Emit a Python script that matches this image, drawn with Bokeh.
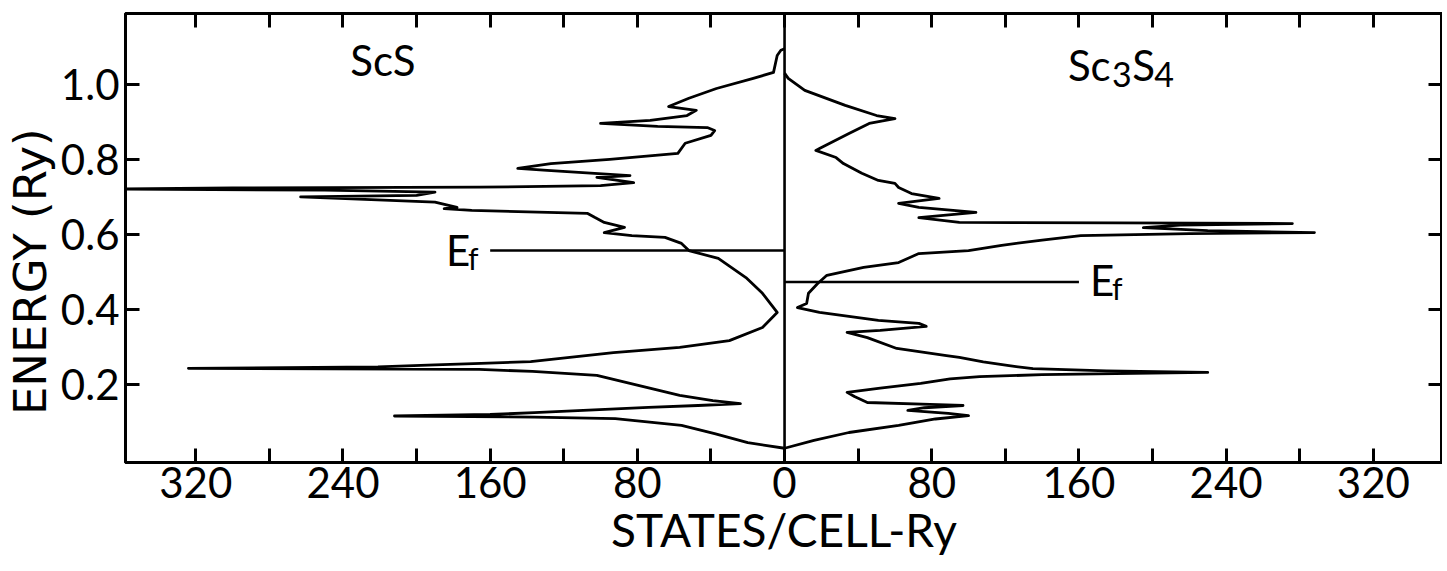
from bokeh.plotting import figure
from bokeh.models import FixedTicker, LinearAxis, CustomJSTickFormatter, Label, Span, Range1d
from bokeh.embed import file_html
from bokeh.resources import INLINE

# ---------------- data ----------------
# ScS density of states (drawn to the left), energy in Ry, DOS in states/cell-Ry
scs_energy = [0.030, 0.045, 0.069, 0.091, 0.109, 0.113, 0.116, 0.120, 0.125, 0.139,
              0.144, 0.149, 0.157, 0.171, 0.192, 0.224, 0.235, 0.240, 0.243, 0.247,
              0.252, 0.256, 0.261, 0.285, 0.299, 0.317, 0.352, 0.392, 0.443, 0.485,
              0.536, 0.557, 0.576, 0.592, 0.597, 0.605, 0.619, 0.632, 0.645, 0.656,
              0.664, 0.669, 0.672, 0.686, 0.700, 0.704, 0.713, 0.718, 0.721, 0.724,
              0.726, 0.730, 0.738, 0.752, 0.757, 0.771, 0.776, 0.789, 0.800, 0.816,
              0.843, 0.864, 0.877, 0.885, 0.888, 0.896, 0.904, 0.917, 0.931, 0.941,
              0.963, 0.989, 1.016, 1.032, 1.077, 1.091, 1.095]
scs_dos = [0, 20, 38, 56, 92, 136, 212, 160, 136, 74,
           47, 24, 39, 57, 75, 102, 137, 166, 324, 221,
           190, 165, 138, 93, 57, 30, 12, 4, 12, 21,
           36, 52, 56, 65, 83, 98, 87, 98, 103, 107,
           170, 185, 178, 190, 263, 200, 190, 250, 365, 300,
           166, 100, 82, 102, 84, 129, 145, 127, 95, 58,
           54, 40, 38, 42, 69, 100, 73, 53, 48, 63,
           52, 37, 17, 6, 4, 2, 0]

# Sc3S4 density of states (drawn to the right)
sc3s4_energy = [0.030, 0.051, 0.072, 0.091, 0.108, 0.117, 0.123, 0.131, 0.138, 0.144,
                0.147, 0.152, 0.168, 0.179, 0.190, 0.203, 0.215, 0.221, 0.226, 0.229,
                0.232, 0.236, 0.242, 0.250, 0.260, 0.272, 0.277, 0.296, 0.325, 0.339,
                0.344, 0.355, 0.363, 0.371, 0.392, 0.405, 0.416, 0.443, 0.469, 0.491,
                0.512, 0.525, 0.549, 0.557, 0.571, 0.585, 0.597, 0.602, 0.605, 0.610,
                0.618, 0.625, 0.629, 0.631, 0.632, 0.645, 0.659, 0.672, 0.683, 0.696,
                0.709, 0.725, 0.736, 0.744, 0.763, 0.789, 0.805, 0.824, 0.829, 0.869,
                0.896, 0.909, 0.917, 0.944, 0.984, 1.016, 1.030]
sc3s4_dos = [0, 16, 35, 62, 82, 100, 89, 67, 76, 97,
             79, 45, 38, 34, 52, 74, 90, 106, 140, 180,
             230, 175, 135, 122, 108, 95, 88, 61, 45, 34,
             52, 77, 73, 51, 19, 7, 12, 13, 18, 23,
             43, 62, 73, 100, 118, 140, 161, 220, 288, 230,
             195, 215, 276, 180, 95, 73, 104, 73, 62, 84,
             69, 62, 60, 51, 42, 32, 28, 17, 19, 35,
             46, 60, 50, 33, 11, 2, 0]

# Fermi levels (Ry) and the length of their marker lines (states/cell-Ry)
fermi_energy = [0.557, 0.473]
fermi_extent = [160, 160]

x_major_ticks = [-320, -240, -160, -80, 0, 80, 160, 240, 320]
x_minor_ticks = [-280, -200, -120, -40, 40, 120, 200, 280]
y_major_ticks = [0.2, 0.4, 0.6, 0.8, 1.0]

FONT = "Lato"
BLACK = "#000000"
X0, X1 = -358.2, 357.6

p = figure(width=1442, height=570, output_backend="svg", toolbar_location=None,
           x_range=Range1d(X0, X1), y_range=Range1d(-0.008, 1.189),
           min_border_left=124, min_border_right=0, min_border_top=13,
           min_border_bottom=108)
p.grid.visible = False
p.outline_line_color = BLACK
p.outline_line_width = 3
p.background_fill_color = "white"
p.border_fill_color = "white"

xa = p.below[0]
ya = p.left[0]
top_axis = LinearAxis()
right_axis = LinearAxis()
p.add_layout(top_axis, "above")
p.add_layout(right_axis, "right")

for ax in [xa, top_axis]:
    ax.ticker = FixedTicker(ticks=x_major_ticks, minor_ticks=x_minor_ticks)
for ax in [ya, right_axis]:
    ax.ticker = FixedTicker(ticks=y_major_ticks, minor_ticks=[])

for ax in [xa, top_axis, ya, right_axis]:
    ax.axis_line_color = BLACK
    ax.axis_line_width = 3
    ax.major_tick_line_color = BLACK
    ax.minor_tick_line_color = BLACK
    ax.major_tick_line_width = 3
    ax.minor_tick_line_width = 3
    ax.major_tick_in = 14
    ax.major_tick_out = 0
    ax.minor_tick_in = 14
    ax.minor_tick_out = 0
    ax.major_label_text_color = BLACK
    ax.major_label_text_font = FONT
    ax.axis_label_text_color = BLACK
    ax.axis_label_text_font = FONT
    ax.axis_label_text_font_style = "normal"

for ax in [top_axis, right_axis]:
    ax.formatter = CustomJSTickFormatter(code="return '';")
    ax.major_label_text_font_size = "0px"
    ax.major_label_standoff = 0

xa.formatter = CustomJSTickFormatter(code="return Math.abs(tick).toFixed(0);")
xa.major_label_text_font_size = "42px"
xa.major_label_standoff = 4
xa.axis_label = "STATES/CELL-Ry"
xa.axis_label_text_font_size = "46px"
xa.axis_label_standoff = 1

ya.formatter = CustomJSTickFormatter(code="return tick.toFixed(1);")
ya.major_label_text_font_size = "42px"
ya.major_label_standoff = 6
# trailing en-spaces push the centred title a little lower, as in the reference
ya.axis_label = "ENERGY (Ry)\u2002\u2002\u2002"
ya.axis_label_text_font = "DejaVu Sans"
ya.axis_label_text_font_size = "45px"
ya.axis_label_standoff = 1

# curves
p.line(x=[-d for d in scs_dos], y=scs_energy, line_color=BLACK, line_width=2.8,
       line_join="round")
p.line(x=sc3s4_dos, y=sc3s4_energy, line_color=BLACK, line_width=2.8,
       line_join="round")

# zero line between the two halves
p.add_layout(Span(location=0, dimension="height", line_color=BLACK, line_width=2.6))

# Fermi level markers
p.segment(x0=[-fermi_extent[0], 0], y0=fermi_energy,
          x1=[0, fermi_extent[1]], y1=fermi_energy,
          line_color=BLACK, line_width=2.4)

def lab(x, y, text, size):
    p.add_layout(Label(x=x, y=y, text=text, text_font=FONT, text_font_size=size,
                       text_color=BLACK, text_baseline="alphabetic", text_align="left"))

DY = 0.05   # baseline correction for the labels
DT = 0.063  # for the compound names
lab(-236, 1.003 + DT, "ScS", "42px")
lab(154, 0.989 + DT, "Sc", "42px")
lab(178, 0.963 + DT, "3", "34px")
lab(189, 0.989 + DT, "S", "42px")
lab(201, 0.963 + DT, "4", "34px")
lab(-184, 0.509 + DY, "E", "42px")
lab(-172, 0.487 + DY, "f", "30px")
lab(166, 0.429 + DY, "E", "42px")
lab(178, 0.408 + DY, "f", "30px")

open("out.html", "w").write(file_html(p, INLINE))
